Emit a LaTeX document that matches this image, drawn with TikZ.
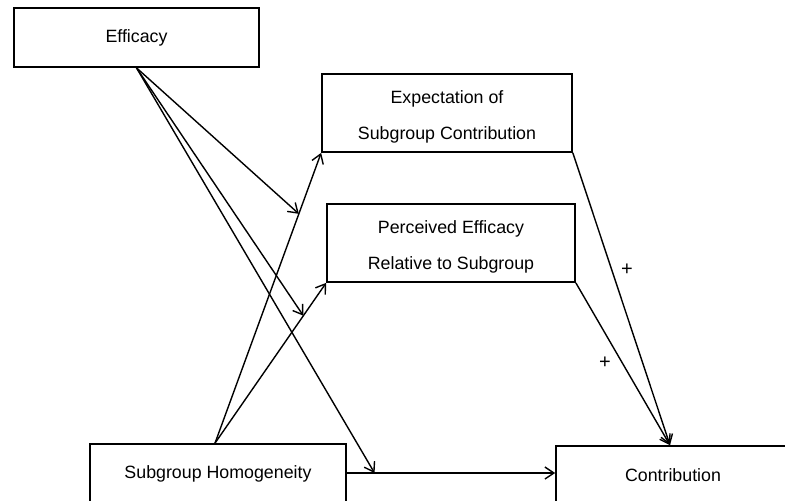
\documentclass[tikz,border=0pt]{standalone}
\usepackage{fontspec}
\setmainfont{Liberation Sans}
\usetikzlibrary{arrows.meta,calc}
\begin{document}
\begin{tikzpicture}[x=1pt,y=-1pt,
  box/.style={draw, line width=1.7pt, rectangle, inner sep=0pt, align=center,
    font=\fontsize{17.8}{36}\selectfont},
  boxtext/.style={align=center, font=\fontsize{17.8}{36}\selectfont, inner sep=0pt, yshift=-4pt},
  conn/.style={line width=1.4pt, -{Straight Barb[length=9pt,width=12pt,line width=1.4pt]}},
  sign/.style={font=\fontsize{20}{22}\selectfont, inner sep=0pt}]
\useasboundingbox (0,0) rectangle (785,501);
\clip (0,0) rectangle (785,501);
\fill[white] (0,0) rectangle (785,501);
\node[box, minimum width=245pt, minimum height=59pt] (eff) at (136.5,37.5) {Efficacy};
\node[box, minimum width=250pt, minimum height=78pt,
  label={[boxtext]center:Expectation of\\Subgroup Contribution}] (exp) at (447,113) {};
\node[box, minimum width=248pt, minimum height=78pt,
  label={[boxtext]center:Perceived Efficacy\\Relative to Subgroup}] (per) at (451,243) {};
\node[box, minimum width=256pt, minimum height=60pt] (sh) at (218,474) {Subgroup Homogeneity};
\node[box, minimum width=234pt, minimum height=58pt] (con) at (673,475) {Contribution};
\node[sign] (p1) at (627,270) {+};
\node[sign] (p2) at (605,363) {+};
% paths from Subgroup Homogeneity
\coordinate (sht) at ($(sh.north)+(-3,0)$);
\draw[conn] (sht) -- (exp.south west);
\draw[conn] (sht) -- (per.south west);
\coordinate (shr) at ($(sh.east)+(0,-1)$);
\draw[conn] (shr) -- (shr -| con.west);
% moderation points
\path (sht) -- (exp.south west) coordinate[pos=0.79] (m1);
\path (sht) -- (per.south west) coordinate[pos=0.795] (m2);
\path (shr) -- (shr -| con.west) coordinate[pos=0.133] (m3);
\draw[conn] (eff.south) -- (m1);
\draw[conn] (eff.south) -- (m2);
\draw[conn] (eff.south) -- (m3);
% mediators to contribution
\coordinate (cin) at ($(con.north)+(-3,0)$);
\draw[conn] (exp.south east) -- (cin);
\draw[conn] (per.south east) -- (cin);
\end{tikzpicture}
\end{document}
